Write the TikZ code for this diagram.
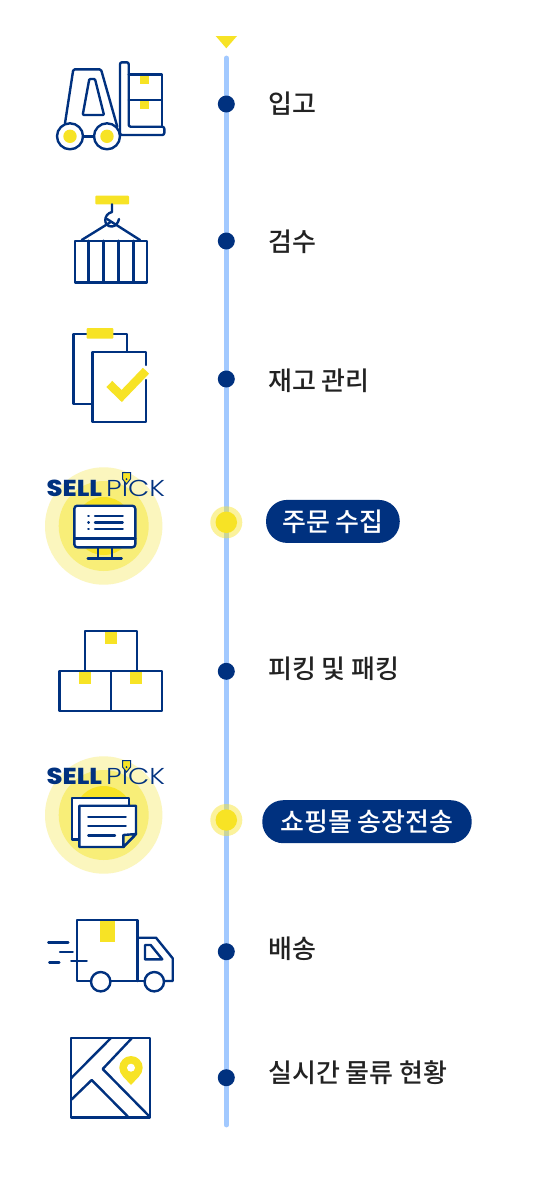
\documentclass[tikz,border=0pt]{standalone}
\usepackage{fontspec}
\usepackage{tikz}
\usetikzlibrary{positioning}
\setmainfont{Poppins}
\newfontfamily\kofont{Noto Sans CJK KR Medium}
\newfontfamily\logobold[FakeStretch=1.12]{Poppins ExtraBold}
\newfontfamily\logothin[FakeStretch=1.2]{Poppins Light}

\definecolor{navy}{HTML}{00317F}
\definecolor{rail}{HTML}{A2C9FF}
\definecolor{sun}{HTML}{F7E325}
\definecolor{sunmid}{HTML}{F8EE78}
\definecolor{sunpale}{HTML}{FBF6BE}
\definecolor{ink}{HTML}{222222}

\begin{document}
\begin{tikzpicture}[
    x=1pt, y=-1pt,
    icon/.style={draw=navy, line width=2.4pt, line join=round, line cap=round},
    tab/.style={fill=sun, rounded corners=0.8pt},
    dot/.style={circle, fill=navy, inner sep=0pt, minimum size=17pt},
    activedot/.style={circle, fill=sun, inner sep=0pt, minimum size=21.5pt},
    halo/.style={circle, fill=sun, opacity=0.45, inner sep=0pt, minimum size=32pt},
    stage/.style={anchor=west, inner sep=0pt, text=ink, font=\kofont\fontsize{26}{26}\selectfont},
    pill/.style={fill=navy, text=white, rounded corners=21pt, inner sep=0pt, minimum height=43pt, font=\kofont\fontsize{26}{26}\selectfont}
]
\useasboundingbox (0,0) rectangle (535,1178);
\fill[white] (0,0) rectangle (535,1178);

% --- Timeline ---
\coordinate (railtop) at (226.3,58);
\coordinate (railend) at (226.3,1125);
\draw[rail, line width=4.8pt, line cap=round] (railtop) -- (railend);
\fill[sun] (215.7,36) -- (237,36) -- (226.3,48.3) -- cycle;

\node[dot] (d1) at (226.3,104) {};
\node[dot] (d2) at (226.3,241) {};
\node[dot] (d3) at (226.3,379) {};
\node[halo] (h4) at (226.3,522.3) {};
\node[activedot] (d4) at (226.3,522.3) {};
\node[dot] (d5) at (226.3,671.3) {};
\node[halo] (h6) at (226.3,820) {};
\node[activedot] (d6) at (226.3,820) {};
\node[dot] (d7) at (226.3,951.7) {};
\node[dot] (d8) at (226.3,1077.7) {};

% --- Labels ---
\node[stage] (l1) at (268,104) {입고};
\node[stage] (l2) at (268,242) {검수};
\node[stage] (l3) at (268,381) {재고 관리};
\node[pill, minimum width=133.7pt] (l4) at (332.9,521.4) {주문 수집};
\node[stage] (l5) at (268,669) {피킹 및 패킹};
\node[pill, minimum width=209.4pt] (l6) at (367,821.7) {쇼핑몰 송장전송};
\node[stage] (l7) at (268,949) {배송};
\node[stage] (l8) at (268,1073) {실시간 물류 현황};

% --- Forklift ---
\begin{scope}[icon]
    \fill[sun, draw=none] (140,73.5) rectangle (149.3,84);
    \fill[sun, draw=none] (140,99) rectangle (149.3,109.3);
    \draw (128.7,74.3) -- (161.7,74.3) -- (161.7,126.7);
    \draw (128.7,100) -- (161.7,100);
    \draw[rounded corners=2pt] (120,135) -- (164.3,135) -- (164.3,126.7) -- (128.7,126.7) -- (128.7,62.3) -- (120,62.3) -- cycle;
    \draw[rounded corners=1.5pt] (65,123.3) -- (73.3,69.3) -- (101,69.3) -- (117.3,126.7);
    \draw[rounded corners=1pt] (89.3,79) -- (82.7,115) -- (104,115) -- (95,79) -- cycle;
    \draw (83,136.3) -- (94,136.3);
    \draw (70,136.3) circle (13);
    \draw (107,136.3) circle (13);
    \fill[sun, draw=none] (70,136.3) circle (6.7);
    \fill[sun, draw=none] (107,136.3) circle (6.7);
\end{scope}

% --- Container ---
\fill[tab] (95.3,195.7) rectangle (129,204.3);
\begin{scope}[icon]
    \draw (75,240.7) rectangle (146.7,282.3);
    \draw (88.3,240.7) -- (88.3,282.3);
    \draw (103.3,240.7) -- (103.3,282.3);
    \draw (118.3,240.7) -- (118.3,282.3);
    \draw (133.3,240.7) -- (133.3,282.3);
    \draw (81.7,240) -- (110,222.5);
    \draw (107,219) -- (140,240);
    \draw (112,204.3) -- (112,212) .. controls (103,214) and (103,227) .. (112,226.5) .. controls (116,226) and (118,223) .. (119,219);
\end{scope}

% --- Clipboard ---
\begin{scope}[icon]
    \draw (91.7,404) -- (73.3,404) -- (73.3,334) -- (126.7,334) -- (126.7,351.7);
    \draw (146,365) -- (146,351.7) -- (92.3,351.7) -- (92.3,421.7) -- (146,421.7) -- (146,380);
\end{scope}
\fill[tab] (86.7,328) rectangle (113.3,338.7);
\draw[sun, line width=8.5pt, line join=miter] (109.3,384) -- (121.7,396) -- (146,370.7);

% --- Boxes ---
\fill[sun] (105,631.7) rectangle (116.7,644);
\fill[sun] (79.3,671.7) rectangle (91,684);
\fill[sun] (130,671.7) rectangle (141.7,684);
\begin{scope}[icon]
    \draw (85,670.7) -- (85,630.7) -- (136.7,630.7) -- (136.7,670.7);
    \draw (59.3,670.7) rectangle (110.7,710.7);
    \draw (110.7,670.7) rectangle (162,710.7);
\end{scope}

% --- Truck ---
\fill[sun] (99.7,921) rectangle (114.7,941.7);
\begin{scope}[icon]
    \draw (91,981) -- (77,981) -- (77,920) -- (137.3,920) -- (137.3,981);
    \draw (110.4,981) -- (144.6,981);
    \draw (137.3,937.7) -- (156,937.7) -- (172.7,958.3) -- (172.7,981) -- (164,981);
    \draw (145,945) -- (150.7,945) -- (162.3,959.3) -- (145,959.3) -- cycle;
    \draw (100.7,981.7) circle (9.7);
    \draw (154.3,981.7) circle (9.7);
    \draw (48.3,942.3) -- (68.3,942.3);
    \draw (60,951.7) -- (72.7,951.7);
    \draw (49.3,962.3) -- (59.3,962.3);
    \draw (71.3,960.7) -- (86.7,960.7);
\end{scope}

% --- Map ---
\begin{scope}[icon]
    \draw (71,1038) rectangle (150,1117.3);
    \draw (111,1038) -- (71,1078.3);
    \draw (132,1038) -- (102.7,1069) -- (150,1117);
    \draw (71,1100) -- (91.7,1080) -- (128.3,1117);
\end{scope}
\fill[sun] (131,1085) .. controls (126,1079) and (119.3,1075) .. (119.3,1067.7) arc[start angle=180, end angle=360, radius=11.7] .. controls (142.7,1075) and (136,1079) .. (131,1085) -- cycle;
\fill[white] (131,1067.7) circle (4);

% --- Order collection ---
\begin{scope}
    \fill[sunpale] (103.7,526) circle (58.7);
    \fill[sunmid] (103.7,526) circle (45);
    \fill[sun] (103.7,526) circle (29);
\end{scope}
\begin{scope}[icon]
    \draw[fill=white, rounded corners=3pt] (74.3,505.7) rectangle (135.3,547.3);
    \draw (74.3,538.3) -- (135.3,538.3);
    \draw (88.3,516) -- (88.8,516);
    \draw (88.3,522.3) -- (88.8,522.3);
    \draw (88.3,529) -- (88.8,529);
    \draw (95,516) -- (122.7,516);
    \draw (95,522.3) -- (122.7,522.3);
    \draw (95,529) -- (122.7,529);
    \draw (97.7,547.3) -- (97.7,558.3);
    \draw (111.7,547.3) -- (111.7,558.3);
    \draw (87.7,558.3) -- (121.7,558.3);
\end{scope}
\node[anchor=base west, inner sep=0pt, text=navy, font=\logobold\fontsize{23}{23}\selectfont] (sell1) at (46.5,496.5) {SELL};
\node[anchor=base west, inner sep=0pt, text=navy, font=\logothin\fontsize{23}{23}\selectfont] (pick1) at (106,496.5) {PICK};
\draw[navy, line width=1pt, fill=sun] (122.5,472.5) -- (130.5,472.5) -- (130.5,479) -- (126.5,484) -- (122.5,479) -- cycle;
\fill[navy] (126.5,479) circle (1);

% --- Invoice transfer ---
\begin{scope}
    \fill[sunpale] (103.7,815) circle (58.7);
    \fill[sunmid] (103.7,815) circle (45);
    \fill[sun] (103.7,815) circle (29);
\end{scope}
\begin{scope}[icon]
    \draw[fill=white] (71.7,797.7) rectangle (129,839.3);
    \draw[fill=white] (79.3,805.7) -- (136,805.7) -- (136,834) -- (123.3,847) -- (79.3,847) -- cycle;
    \draw[fill=sunmid] (123.3,847) -- (123.3,835) -- (136,834) -- cycle;
    \draw (88.3,816.7) -- (125.7,816.7);
    \draw (88.3,826) -- (125.7,826);
    \draw (88.3,835.3) -- (115,835.3);
\end{scope}
\node[anchor=base west, inner sep=0pt, text=navy, font=\logobold\fontsize{23}{23}\selectfont] (sell2) at (46.5,784.5) {SELL};
\node[anchor=base west, inner sep=0pt, text=navy, font=\logothin\fontsize{23}{23}\selectfont] (pick2) at (106,784.5) {PICK};
\draw[navy, line width=1pt, fill=sun] (122.5,760.5) -- (130.5,760.5) -- (130.5,767) -- (126.5,772) -- (122.5,767) -- cycle;
\fill[navy] (126.5,767) circle (1);

\end{tikzpicture}
\end{document}
